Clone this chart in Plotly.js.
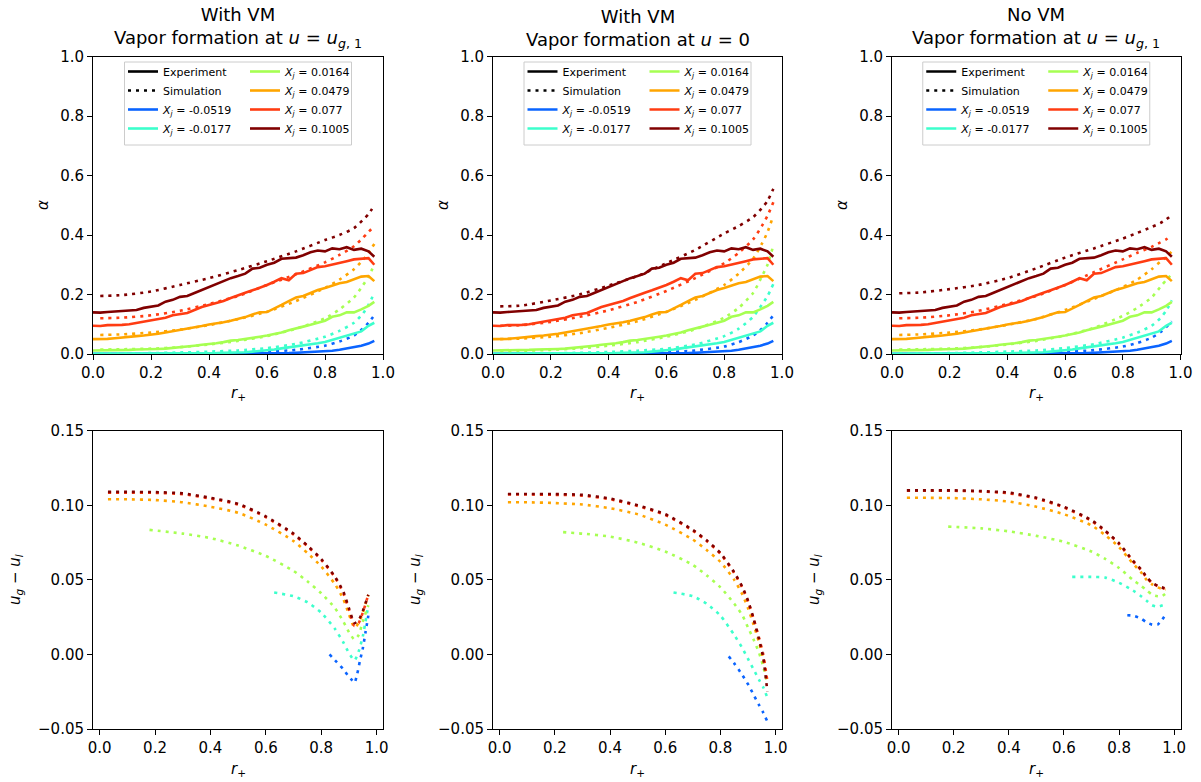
<!DOCTYPE html>
<html>
<head>
<meta charset="utf-8">
<script src="https://cdn.plot.ly/plotly-3.0.1.min.js"></script>
<style>
  html, body { margin: 0; padding: 0; background: #fff; }
  #fig { width: 1201px; height: 782px; }
</style>
</head>
<body>
<div id="fig"></div>
<script>
// ---- data ---------------------------------------------------------------
const XJ_LABELS = ['-0.0519', '-0.0177', '0.0164', '0.0479', '0.077', '0.1005'];

// experiment (same in all three alpha panels)
const X_EXP = [0, 0.025, 0.05, 0.075, 0.1, 0.125, 0.15, 0.175, 0.2, 0.225, 0.25, 0.275, 0.3, 0.325, 0.35, 0.375,
  0.4, 0.425, 0.45, 0.475, 0.5, 0.525, 0.55, 0.575, 0.6, 0.625, 0.65, 0.675, 0.7, 0.725, 0.75, 0.775,
  0.8, 0.825, 0.85, 0.875, 0.9, 0.925, 0.95, 0.97];
const exp_n0519 = [0.001, 0.001, 0.001, 0.001, 0.001, 0.001, 0.001, 0.001, 0.001, 0.001, 0.001, 0.001, 0.001, 0.001, 0.001, 0.001,
  0.001, 0.001, 0.001, 0.001, 0.001, 0.001, 0.001, 0.002, 0.002, 0.002, 0.003, 0.003, 0.004, 0.005, 0.006, 0.008,
  0.009, 0.011, 0.014, 0.018, 0.022, 0.028, 0.035, 0.044];
const exp_n0177 = [0.001, 0.001, 0.001, 0.001, 0.001, 0.001, 0.001, 0.002, 0.002, 0.002, 0.002, 0.002, 0.002, 0.003, 0.003, 0.003,
  0.003, 0.003, 0.004, 0.004, 0.005, 0.006, 0.008, 0.010, 0.012, 0.015, 0.019, 0.022, 0.026, 0.030, 0.033, 0.036,
  0.040, 0.047, 0.055, 0.062, 0.070, 0.076, 0.095, 0.105];
const exp_p0164 = [0.012, 0.012, 0.013, 0.013, 0.014, 0.014, 0.015, 0.015, 0.016, 0.017, 0.018, 0.020, 0.022, 0.025, 0.028, 0.031,
  0.033, 0.036, 0.040, 0.045, 0.047, 0.050, 0.054, 0.058, 0.062, 0.066, 0.072, 0.080, 0.087, 0.092, 0.098, 0.106,
  0.112, 0.125, 0.130, 0.140, 0.140, 0.150, 0.162, 0.175];
const exp_p0479 = [0.050, 0.050, 0.051, 0.053, 0.056, 0.058, 0.060, 0.062, 0.064, 0.068, 0.072, 0.076, 0.081, 0.086, 0.090, 0.094,
  0.099, 0.102, 0.107, 0.112, 0.118, 0.124, 0.133, 0.140, 0.141, 0.152, 0.165, 0.178, 0.190, 0.195, 0.205, 0.215,
  0.222, 0.230, 0.238, 0.242, 0.252, 0.260, 0.262, 0.245];
const exp_p0770 = [0.095, 0.094, 0.097, 0.097, 0.098, 0.100, 0.104, 0.108, 0.113, 0.118, 0.122, 0.130, 0.134, 0.138, 0.148, 0.158,
  0.165, 0.172, 0.178, 0.188, 0.198, 0.206, 0.214, 0.222, 0.232, 0.243, 0.255, 0.248, 0.270, 0.272, 0.282, 0.292,
  0.295, 0.300, 0.306, 0.312, 0.318, 0.320, 0.322, 0.300];
const exp_p1005 = [0.140, 0.139, 0.141, 0.143, 0.145, 0.146, 0.148, 0.155, 0.160, 0.163, 0.176, 0.182, 0.192, 0.195, 0.205, 0.215,
  0.225, 0.235, 0.247, 0.255, 0.262, 0.270, 0.287, 0.290, 0.300, 0.307, 0.320, 0.322, 0.324, 0.332, 0.342, 0.348,
  0.345, 0.355, 0.352, 0.359, 0.350, 0.354, 0.345, 0.327];

// simulated alpha
const X_SIM = [0.025, 0.1, 0.2, 0.3, 0.4, 0.5, 0.6, 0.7, 0.8, 0.85, 0.9, 0.93, 0.95, 0.97];
// With VM, vapor formation at u = u_g,1
const simVM_n0519 = [0.000, 0.000, 0.000, 0.001, 0.002, 0.004, 0.007, 0.014, 0.028, 0.042, 0.062, 0.085, 0.105, 0.130];
const simVM_n0177 = [0.002, 0.002, 0.003, 0.005, 0.008, 0.012, 0.020, 0.034, 0.058, 0.078, 0.105, 0.135, 0.165, 0.205];
const simVM_p0164 = [0.015, 0.016, 0.018, 0.023, 0.032, 0.044, 0.060, 0.085, 0.120, 0.150, 0.190, 0.230, 0.260, 0.300];
const simVM_p0479 = [0.064, 0.066, 0.072, 0.082, 0.097, 0.117, 0.142, 0.178, 0.222, 0.250, 0.285, 0.315, 0.340, 0.370];
const simVM_p0770 = [0.120, 0.122, 0.130, 0.145, 0.168, 0.195, 0.232, 0.268, 0.308, 0.333, 0.362, 0.390, 0.410, 0.430];
const simVM_p1005 = [0.195, 0.198, 0.210, 0.232, 0.255, 0.282, 0.312, 0.345, 0.383, 0.400, 0.423, 0.450, 0.470, 0.500];
// With VM, vapor formation at u = 0
const simU0_n0519 = [0.000, 0.000, 0.000, 0.001, 0.002, 0.003, 0.006, 0.012, 0.025, 0.040, 0.062, 0.085, 0.105, 0.130];
const simU0_n0177 = [0.001, 0.001, 0.002, 0.004, 0.007, 0.011, 0.018, 0.032, 0.060, 0.085, 0.125, 0.165, 0.195, 0.235];
const simU0_p0164 = [0.010, 0.011, 0.014, 0.019, 0.028, 0.040, 0.058, 0.083, 0.122, 0.155, 0.205, 0.260, 0.300, 0.365];
const simU0_p0479 = [0.050, 0.052, 0.058, 0.070, 0.088, 0.110, 0.142, 0.182, 0.232, 0.270, 0.320, 0.370, 0.410, 0.465];
const simU0_p0770 = [0.095, 0.097, 0.108, 0.125, 0.147, 0.175, 0.212, 0.255, 0.305, 0.340, 0.385, 0.430, 0.465, 0.510];
const simU0_p1005 = [0.160, 0.163, 0.180, 0.200, 0.230, 0.262, 0.305, 0.350, 0.405, 0.430, 0.460, 0.490, 0.515, 0.555];
// No VM, vapor formation at u = u_g,1
const simNo_n0519 = [0.000, 0.000, 0.000, 0.001, 0.002, 0.004, 0.007, 0.013, 0.025, 0.037, 0.055, 0.073, 0.090, 0.110];
const simNo_n0177 = [0.002, 0.002, 0.003, 0.005, 0.008, 0.012, 0.020, 0.033, 0.055, 0.072, 0.095, 0.120, 0.145, 0.180];
const simNo_p0164 = [0.015, 0.016, 0.018, 0.023, 0.032, 0.044, 0.062, 0.088, 0.128, 0.155, 0.190, 0.225, 0.248, 0.268];
const simNo_p0479 = [0.064, 0.066, 0.072, 0.082, 0.098, 0.118, 0.148, 0.185, 0.225, 0.250, 0.285, 0.310, 0.325, 0.345];
const simNo_p0770 = [0.120, 0.122, 0.130, 0.145, 0.168, 0.195, 0.232, 0.275, 0.318, 0.340, 0.360, 0.375, 0.385, 0.398];
const simNo_p1005 = [0.204, 0.207, 0.218, 0.232, 0.255, 0.288, 0.324, 0.355, 0.388, 0.407, 0.427, 0.440, 0.452, 0.467];

// simulated slip u_g - u_l
// With VM, u = u_g,1
const duVM_x = [0.03, 0.1, 0.2, 0.3, 0.4, 0.5, 0.6, 0.7, 0.75, 0.8, 0.85, 0.88, 0.9, 0.92, 0.935, 0.95, 0.97];
const duVM_p1005 = [0.109, 0.109, 0.1088, 0.108, 0.105, 0.101, 0.0925, 0.081, 0.073, 0.064, 0.052, 0.042, 0.031, 0.021, 0.023, 0.029, 0.040];
const duVM_p0770 = [0.1085, 0.1085, 0.1083, 0.1075, 0.1045, 0.1005, 0.092, 0.0805, 0.0725, 0.0635, 0.0515, 0.041, 0.030, 0.019, 0.021, 0.028, 0.040];
const duVM_p0479 = [0.104, 0.104, 0.1035, 0.102, 0.099, 0.095, 0.087, 0.076, 0.068, 0.059, 0.047, 0.037, 0.027, 0.018, 0.021, 0.028, 0.040];
const duVM_x_p0164 = [0.18, 0.3, 0.4, 0.5, 0.6, 0.7, 0.75, 0.8, 0.85, 0.88, 0.9, 0.92, 0.935, 0.95, 0.97];
const duVM_p0164 = [0.0835, 0.081, 0.078, 0.073, 0.066, 0.056, 0.049, 0.041, 0.031, 0.022, 0.015, 0.010, 0.013, 0.022, 0.033];
const duVM_x_n0177 = [0.63, 0.7, 0.75, 0.8, 0.85, 0.88, 0.9, 0.92, 0.935, 0.95, 0.97];
const duVM_n0177 = [0.0415, 0.039, 0.035, 0.028, 0.017, 0.008, 0.001, -0.004, 0.002, 0.012, 0.033];
const duVM_x_n0519 = [0.83, 0.85, 0.88, 0.9, 0.91, 0.92, 0.93, 0.94, 0.95, 0.96, 0.97];
const duVM_n0519 = [0.0, -0.004, -0.010, -0.015, -0.017, -0.019, -0.013, -0.004, 0.004, 0.015, 0.026];
// With VM, u = 0
const duU0_x = [0.03, 0.1, 0.2, 0.3, 0.4, 0.5, 0.6, 0.7, 0.75, 0.8, 0.85, 0.88, 0.9, 0.92, 0.94, 0.955, 0.97];
const duU0_p1005 = [0.1076, 0.1076, 0.1075, 0.107, 0.1045, 0.100, 0.094, 0.0835, 0.0765, 0.068, 0.055, 0.045, 0.036, 0.024, 0.010, -0.002, -0.025];
const duU0_p0770 = [0.1072, 0.1072, 0.107, 0.1065, 0.104, 0.0995, 0.0935, 0.083, 0.076, 0.0675, 0.0545, 0.0445, 0.0355, 0.024, 0.011, 0.0, -0.018];
const duU0_p0479 = [0.102, 0.102, 0.1015, 0.1005, 0.098, 0.094, 0.087, 0.077, 0.070, 0.062, 0.050, 0.040, 0.031, 0.020, 0.008, -0.003, -0.018];
const duU0_x_p0164 = [0.23, 0.3, 0.4, 0.5, 0.6, 0.7, 0.75, 0.8, 0.85, 0.88, 0.9, 0.92, 0.94, 0.955, 0.97];
const duU0_p0164 = [0.082, 0.081, 0.079, 0.075, 0.069, 0.060, 0.053, 0.045, 0.034, 0.026, 0.018, 0.010, 0.001, -0.008, -0.020];
const duU0_x_n0177 = [0.63, 0.7, 0.75, 0.8, 0.85, 0.88, 0.9, 0.92, 0.94, 0.955, 0.97];
const duU0_n0177 = [0.0415, 0.039, 0.034, 0.026, 0.013, 0.004, -0.003, -0.010, -0.017, -0.022, -0.029];
const duU0_x_n0519 = [0.83, 0.85, 0.88, 0.9, 0.92, 0.94, 0.955, 0.97];
const duU0_n0519 = [-0.0013, -0.006, -0.014, -0.020, -0.027, -0.034, -0.039, -0.045];
// No VM, u = u_g,1
const duNo_x = [0.03, 0.1, 0.2, 0.3, 0.4, 0.5, 0.6, 0.7, 0.75, 0.8, 0.85, 0.88, 0.9, 0.92, 0.94, 0.955, 0.97];
const duNo_p1005 = [0.110, 0.110, 0.110, 0.1095, 0.1085, 0.105, 0.099, 0.090, 0.083, 0.0745, 0.063, 0.057, 0.052, 0.048, 0.046, 0.045, 0.044];
const duNo_p0770 = [0.1098, 0.1098, 0.1097, 0.1093, 0.108, 0.1045, 0.0985, 0.0895, 0.0825, 0.074, 0.0625, 0.0565, 0.0515, 0.0478, 0.0458, 0.0448, 0.0438];
const duNo_p0479 = [0.105, 0.105, 0.1048, 0.104, 0.1025, 0.099, 0.094, 0.0865, 0.080, 0.072, 0.061, 0.055, 0.050, 0.047, 0.045, 0.044, 0.0435];
const duNo_x_p0164 = [0.18, 0.3, 0.4, 0.5, 0.6, 0.7, 0.75, 0.8, 0.85, 0.88, 0.9, 0.92, 0.94, 0.955, 0.97];
const duNo_p0164 = [0.0857, 0.0845, 0.0825, 0.0795, 0.0755, 0.069, 0.064, 0.058, 0.050, 0.046, 0.043, 0.040, 0.039, 0.039, 0.041];
const duNo_x_n0177 = [0.63, 0.7, 0.75, 0.8, 0.85, 0.88, 0.9, 0.92, 0.94, 0.96];
const duNo_n0177 = [0.052, 0.052, 0.0515, 0.048, 0.043, 0.039, 0.036, 0.033, 0.032, 0.033];
const duNo_x_n0519 = [0.83, 0.85, 0.88, 0.9, 0.92, 0.94, 0.955, 0.97];
const duNo_n0519 = [0.0263, 0.026, 0.024, 0.0215, 0.020, 0.020, 0.023, 0.027];

const PANEL_TITLES = [
  'With VM<br>Vapor formation at <i>u</i> = <i>u</i><sub><i>g</i>, 1</sub>',
  'With VM<br>Vapor formation at <i>u</i> = 0',
  'No VM<br>Vapor formation at <i>u</i> = <i>u</i><sub><i>g</i>, 1</sub>',
];

// ---- style ----------------------------------------------------------------
const FONT = '"DejaVu Sans", sans-serif';
const COLORS = ['#0a64ff', '#3cffcc', '#a6ff52', '#ffa500', '#ff3c12', '#800000'];
const W = 1201, H = 782;
// panel pixel boxes (left, right) and rows (top, bottom)
const COLS_PX = [[93, 383], [493, 782], [892, 1180.5]];
const TOP_PX = [56.5, 354];
const BOT_PX = [430.7, 729];

const px = (v) => v / W;
const py = (v) => 1 - v / H;

const expSeries = [exp_n0519, exp_n0177, exp_p0164, exp_p0479, exp_p0770, exp_p1005];
const simSets = [
  [simVM_n0519, simVM_n0177, simVM_p0164, simVM_p0479, simVM_p0770, simVM_p1005],
  [simU0_n0519, simU0_n0177, simU0_p0164, simU0_p0479, simU0_p0770, simU0_p1005],
  [simNo_n0519, simNo_n0177, simNo_p0164, simNo_p0479, simNo_p0770, simNo_p1005],
];
const duSets = [
  [[duVM_x_n0519, duVM_n0519], [duVM_x_n0177, duVM_n0177], [duVM_x_p0164, duVM_p0164],
   [duVM_x, duVM_p0479], [duVM_x, duVM_p0770], [duVM_x, duVM_p1005]],
  [[duU0_x_n0519, duU0_n0519], [duU0_x_n0177, duU0_n0177], [duU0_x_p0164, duU0_p0164],
   [duU0_x, duU0_p0479], [duU0_x, duU0_p0770], [duU0_x, duU0_p1005]],
  [[duNo_x_n0519, duNo_n0519], [duNo_x_n0177, duNo_n0177], [duNo_x_p0164, duNo_p0164],
   [duNo_x, duNo_p0479], [duNo_x, duNo_p0770], [duNo_x, duNo_p1005]],
];

const LW = 2.6;
const DOT = '3px,5px';

const traces = [];
const xjText = (s) => '<i>X</i><sub><i>j</i></sub> = ' + s;

for (let p = 0; p < 3; p++) {
  const xa = 'x' + (p === 0 ? '' : p + 1);
  const ya = 'y' + (p === 0 ? '' : p + 1);
  const xb = 'x' + (p + 4);
  const yb = 'y' + (p + 4);
  const legA = 'legend' + (p === 0 ? '' : 2 * p + 1);
  const legB = 'legend' + (2 * p + 2);

  // legend-only entries
  traces.push({ x: [null], y: [null], xaxis: xa, yaxis: ya, mode: 'lines', name: 'Experiment',
    line: { color: '#000', width: LW }, legend: legA, hoverinfo: 'skip' });
  traces.push({ x: [null], y: [null], xaxis: xa, yaxis: ya, mode: 'lines', name: 'Simulation',
    line: { color: '#000', width: LW, dash: DOT }, legend: legA, hoverinfo: 'skip' });

  for (let i = 0; i < 6; i++) {
    traces.push({
      x: X_EXP, y: expSeries[i], xaxis: xa, yaxis: ya, mode: 'lines',
      name: xjText(XJ_LABELS[i]), legend: i < 2 ? legA : legB,
      line: { color: COLORS[i], width: LW },
    });
    traces.push({
      x: X_SIM, y: simSets[p][i], xaxis: xa, yaxis: ya, mode: 'lines', showlegend: false,
      line: { color: COLORS[i], width: LW, dash: DOT, shape: 'spline', smoothing: 0.6 },
    });
  }
  for (let i = 0; i < 6; i++) {
    traces.push({
      x: duSets[p][i][0], y: duSets[p][i][1], xaxis: xb, yaxis: yb, mode: 'lines', showlegend: false,
      line: { color: COLORS[i], width: LW, dash: DOT, shape: 'spline', smoothing: 0.6 },
    });
  }
}

function axis(domain, range, extra) {
  return Object.assign({
    domain: domain, range: range, showline: true, mirror: true, linecolor: '#000', linewidth: 1,
    ticks: 'outside', ticklen: 5, tickwidth: 1, tickcolor: '#000',
    showgrid: false, zeroline: false, fixedrange: true,
    tickfont: { family: FONT, size: 15, color: '#000' },
  }, extra);
}

const layout = {
  width: W, height: H,
  margin: { l: 0, r: 0, t: 0, b: 0 },
  paper_bgcolor: '#fff', plot_bgcolor: '#fff',
  font: { family: FONT, color: '#000' },
  showlegend: true,
  annotations: [], shapes: [],
};

const topDom = [py(TOP_PX[1]), py(TOP_PX[0])];
const botDom = [py(BOT_PX[1]), py(BOT_PX[0])];

for (let p = 0; p < 3; p++) {
  const xd = [px(COLS_PX[p][0]), px(COLS_PX[p][1])];
  const sfx = p === 0 ? '' : String(p + 1);
  layout['xaxis' + sfx] = axis(xd, [0, 1], { anchor: 'y' + sfx, dtick: 0.2, tick0: 0, tickformat: '.1f' });
  layout['yaxis' + sfx] = axis(topDom, [0, 1], { anchor: 'x' + sfx, dtick: 0.2, tick0: 0, tickformat: '.1f' });
  layout['xaxis' + (p + 4)] = axis(xd, [-0.024, 1.023], { anchor: 'y' + (p + 4), dtick: 0.2, tick0: 0, tickformat: '.1f' });
  layout['yaxis' + (p + 4)] = axis(botDom, [-0.05, 0.15], { anchor: 'x' + (p + 4), dtick: 0.05, tick0: 0, tickformat: '.2f' });

  const cx = (COLS_PX[p][0] + COLS_PX[p][1]) / 2;

  // titles
  layout.annotations.push({ text: PANEL_TITLES[p], xref: 'paper', yref: 'paper', x: px(cx), y: py(28),
    xanchor: 'center', yanchor: 'middle', showarrow: false, font: { family: FONT, size: 18, color: '#000' } });
  // axis labels
  layout.annotations.push({ text: '<i>α</i>', xref: 'paper', yref: 'paper', x: px(COLS_PX[p][0] - 50), y: py(205),
    xanchor: 'center', yanchor: 'middle', textangle: -90, showarrow: false, font: { family: FONT, size: 15 } });
  layout.annotations.push({ text: '<i>u</i><sub><i>g</i></sub> − <i>u</i><sub><i>l</i></sub>', xref: 'paper', yref: 'paper',
    x: px(COLS_PX[p][0] - 78), y: py(580), xanchor: 'center', yanchor: 'middle', textangle: -90, showarrow: false,
    font: { family: FONT, size: 15 } });
  layout.annotations.push({ text: '<i>r</i><sub>+</sub>', xref: 'paper', yref: 'paper', x: px(cx), y: py(393),
    xanchor: 'center', yanchor: 'middle', showarrow: false, font: { family: FONT, size: 15 } });
  layout.annotations.push({ text: '<i>r</i><sub>+</sub>', xref: 'paper', yref: 'paper', x: px(cx), y: py(769),
    xanchor: 'center', yanchor: 'middle', showarrow: false, font: { family: FONT, size: 15 } });

  // legend frame (both columns share one box)
  layout.shapes.push({ type: 'rect', xref: 'paper', yref: 'paper', layer: 'above',
    x0: px(cx - 113.5), x1: px(cx + 113.5), y0: py(145), y1: py(62),
    line: { color: '#cccccc', width: 1 }, fillcolor: 'rgba(255,255,255,0.8)' });

  const legStyle = { yanchor: 'top', xanchor: 'left', y: py(57), bgcolor: 'rgba(0,0,0,0)', borderwidth: 0,
    itemwidth: 30, tracegroupgap: 0, font: { family: FONT, size: 11, color: '#000' } };
  layout[p === 0 ? 'legend' : 'legend' + (2 * p + 1)] = Object.assign({ x: px(cx - 115) }, legStyle);
  layout['legend' + (2 * p + 2)] = Object.assign({ x: px(cx + 7) }, legStyle);
}

Plotly.newPlot('fig', traces, layout, { displayModeBar: false, staticPlot: true });
</script>
</body>
</html>
